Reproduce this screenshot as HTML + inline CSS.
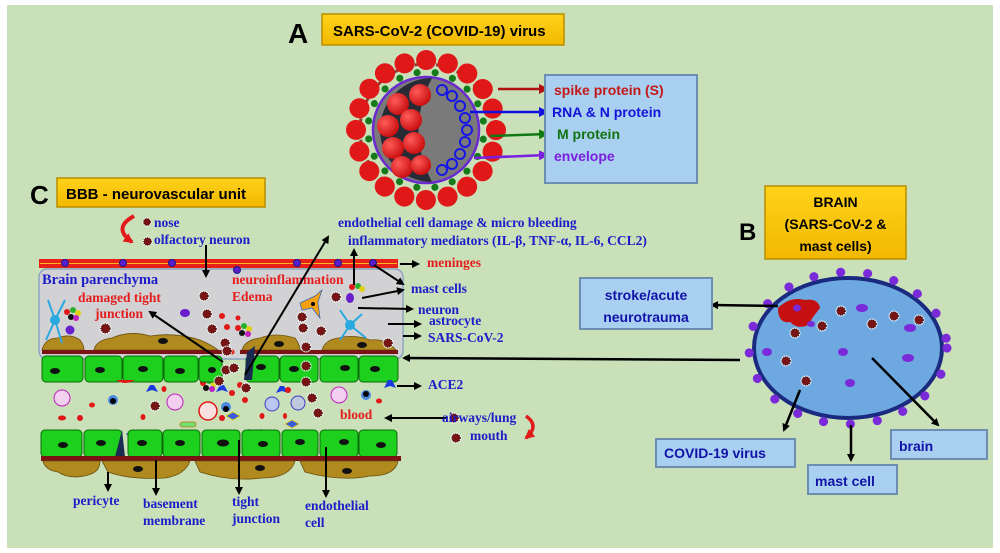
<!DOCTYPE html>
<html><head><meta charset="utf-8"><style>
html,body{margin:0;padding:0;background:#fff;}
svg{display:block;}
.lb{font-family:"Liberation Serif",serif;font-weight:bold;fill:#1c1cc8;font-size:13.5px;}
.rd{font-family:"Liberation Serif",serif;font-weight:bold;fill:#e41e1e;font-size:13.5px;}
.ss{font-family:"Liberation Sans",sans-serif;font-weight:bold;}
</style></head><body>
<svg width="1000" height="553" viewBox="0 0 1000 553" xmlns="http://www.w3.org/2000/svg">
<defs>
<marker id="ah" markerWidth="8" markerHeight="8" refX="6" refY="4" orient="auto" markerUnits="userSpaceOnUse"><path d="M0,0 L8,4 L0,8 Z" fill="#000"/></marker>
<marker id="ahr" markerWidth="10" markerHeight="10" refX="8" refY="5" orient="auto" markerUnits="userSpaceOnUse"><path d="M0,0 L10,5 L0,10 Z" fill="#b01010"/></marker>
<marker id="ahb" markerWidth="10" markerHeight="10" refX="8" refY="5" orient="auto" markerUnits="userSpaceOnUse"><path d="M0,0 L10,5 L0,10 Z" fill="#1010e0"/></marker>
<marker id="ahg" markerWidth="10" markerHeight="10" refX="8" refY="5" orient="auto" markerUnits="userSpaceOnUse"><path d="M0,0 L10,5 L0,10 Z" fill="#127a12"/></marker>
<marker id="ahp" markerWidth="10" markerHeight="10" refX="8" refY="5" orient="auto" markerUnits="userSpaceOnUse"><path d="M0,0 L10,5 L0,10 Z" fill="#7a1ee0"/></marker>
<marker id="ahred" markerWidth="10" markerHeight="10" refX="8" refY="5" orient="auto" markerUnits="userSpaceOnUse"><path d="M0,0 L10,5 L0,10 Z" fill="#e21a1a"/></marker>
<symbol id="v" viewBox="-6 -6 12 12"><circle r="5.5" fill="#fff" opacity=".7"/><circle r="4" fill="#7a1414" stroke="#4a0808" stroke-width="1.5" stroke-dasharray="1 1"/></symbol>
<linearGradient id="yg" x1="0" y1="0" x2="0" y2="1"><stop offset="0" stop-color="#ffd21a"/><stop offset="1" stop-color="#f2b800"/></linearGradient>
<radialGradient id="sg" cx=".35" cy=".35" r=".7"><stop offset="0" stop-color="#ff5a5a"/><stop offset="1" stop-color="#c80c0c"/></radialGradient>
</defs>
<rect x="7" y="5" width="986" height="543" fill="#c9e0b9"/>

<!-- Panel A -->
<text x="288" y="43" class="ss" font-size="28" fill="#000">A</text>
<rect x="322" y="14" width="242" height="31" fill="url(#yg)" stroke="#b98d00" stroke-width="1.5"/>
<text x="333" y="36" class="ss" font-size="15" fill="#000">SARS-CoV-2 (COVID-19) virus</text>

<circle cx="426" cy="130" r="66" fill="none" stroke="#8a1010" stroke-width="3" stroke-dasharray="6 15.6" stroke-dashoffset="3" opacity=".8"/>
<circle cx="426" cy="130" r="70" fill="none" stroke="#e01818" stroke-width="20" stroke-dasharray="0.1 21.89" stroke-linecap="round"/>
<circle cx="426" cy="130" r="58" fill="none" stroke="#157a1a" stroke-width="7" stroke-dasharray="0.1 18.1" stroke-dashoffset="9" stroke-linecap="round"/>
<circle cx="426" cy="130" r="53" fill="#7a7a7a" stroke="#6a2ad0" stroke-width="2.5"/>
<path d="M432,78 A52,52 0 0 0 432,182 Q405,130 432,78 Z" fill="#262b36"/>
<g fill="url(#sg)">
<circle cx="398" cy="104" r="11"/><circle cx="420" cy="95" r="11"/><circle cx="388" cy="126" r="11"/><circle cx="411" cy="120" r="11"/>
<circle cx="393" cy="148" r="11"/><circle cx="414" cy="143" r="11"/><circle cx="402" cy="167" r="11"/><circle cx="421" cy="165" r="10"/>
</g>
<g fill="none" stroke="#1616e8" stroke-width="2">
<circle cx="442" cy="90" r="5"/><circle cx="452" cy="96" r="5"/><circle cx="460" cy="106" r="5"/><circle cx="465" cy="118" r="5"/>
<circle cx="467" cy="130" r="5"/><circle cx="465" cy="142" r="5"/><circle cx="460" cy="154" r="5"/><circle cx="452" cy="164" r="5"/><circle cx="442" cy="170" r="5"/>
</g>
<line x1="498" y1="89" x2="547" y2="89" stroke="#b01010" stroke-width="2.5" marker-end="url(#ahr)"/>
<line x1="470" y1="112" x2="547" y2="112" stroke="#1010e0" stroke-width="2.5" marker-end="url(#ahb)"/>
<line x1="490" y1="136" x2="547" y2="134" stroke="#127a12" stroke-width="2.5" marker-end="url(#ahg)"/>
<line x1="474" y1="158" x2="547" y2="155" stroke="#7a1ee0" stroke-width="2.5" marker-end="url(#ahp)"/>
<rect x="545" y="75" width="152" height="108" fill="#a9d0f0" stroke="#6b8fb0" stroke-width="2"/>
<text x="554" y="95" class="ss" font-size="14" fill="#c41818">spike protein (S)</text>
<text x="552" y="117" class="ss" font-size="14" fill="#1212d8">RNA &amp; N protein</text>
<text x="557" y="139" class="ss" font-size="14" fill="#137313">M protein</text>
<text x="554" y="161" class="ss" font-size="14" fill="#7a1ee0">envelope</text>

<!-- Panel C -->
<text x="30" y="204" class="ss" font-size="26" fill="#000">C</text>
<rect x="57" y="178" width="208" height="29" fill="url(#yg)" stroke="#b98d00" stroke-width="1.5"/>
<text x="66" y="199" class="ss" font-size="15" fill="#000">BBB - neurovascular unit</text>

<path d="M134,216 Q112,228 132,242" fill="none" stroke="#e21a1a" stroke-width="4" marker-end="url(#ahred)"/>
<use href="#v" x="142" y="217" width="10" height="10"/>
<use href="#v" x="142" y="236" width="11" height="11"/>
<text x="154" y="227" class="lb">nose</text>
<text x="154" y="244" class="lb">olfactory neuron</text>

<text x="338" y="227" class="lb">endothelial cell damage &amp; micro bleeding</text>
<text x="348" y="245" class="lb">inflammatory mediators (IL-β, TNF-α, IL-6, CCL2)</text>

<!-- parenchyma -->
<rect x="39" y="269" width="364" height="90" rx="8" fill="#d2d2d4" stroke="#7a9ac0" stroke-width="1.2"/>
<rect x="39" y="259" width="359" height="9" fill="#e8201a"/>
<line x1="40" y1="263.5" x2="397" y2="263.5" stroke="#f5b820" stroke-width="1"/>
<g fill="#5a1ecc" stroke="#1a1a80" stroke-width="1">
<circle cx="65" cy="263" r="3.5"/><circle cx="123" cy="263" r="3.5"/><circle cx="172" cy="263" r="3.5"/><circle cx="297" cy="263" r="3.5"/><circle cx="338" cy="263" r="3.5"/><circle cx="373" cy="263" r="3.5"/><circle cx="237" cy="270" r="3.5"/>
</g>
<text x="42" y="284" font-family="Liberation Serif,serif" font-weight="bold" font-size="14.5" fill="#1c1cc8">Brain parenchyma</text>
<text x="78" y="302" class="rd">damaged tight</text>
<text x="95" y="318" class="rd">junction</text>
<text x="232" y="284" class="rd">neuroinflammation</text>
<text x="232" y="301" class="rd">Edema</text>

<!-- pericytes top -->
<g fill="#b08a1e" stroke="#6a5010" stroke-width=".8">
<path d="M42,350 Q45,338 58,338 Q70,333 80,340 Q84,345 84,350 Z"/>
<path d="M94,350 Q96,340 112,338 Q130,330 150,336 Q175,332 200,340 Q212,345 218,350 Z"/>
<path d="M242,350 Q245,340 260,338 Q275,332 295,338 Q300,345 300,350 Z"/>
<path d="M322,350 Q325,340 338,338 Q355,334 370,340 Q385,338 396,350 Z"/>
</g>
<g fill="#111"><ellipse cx="163" cy="341" rx="5" ry="3"/><ellipse cx="279" cy="344" rx="5" ry="3"/><ellipse cx="362" cy="345" rx="5" ry="3"/></g>
<rect x="42" y="350" width="180" height="4" fill="#7a1414"/>
<rect x="240" y="350" width="158" height="4" fill="#7a1414"/>

<!-- astrocytes / neuron -->
<g stroke="#2aa8e0" stroke-width="2" fill="none">
<path d="M55,320 L48,300 M55,320 L65,300 M55,320 L46,340 M55,320 L62,343"/>
<path d="M350,325 L340,310 M350,325 L362,314 M350,325 L340,340 M350,325 L366,338"/>
</g>
<circle cx="55" cy="320" r="5" fill="#2aa8e0"/><circle cx="350" cy="325" r="5" fill="#2aa8e0"/>
<path d="M300,303 L315,296 L322,290 L318,302 L320,318 L312,308 L302,310 Z" fill="#f5a010" stroke="#3a6ab0" stroke-width=".8"/>
<circle cx="313" cy="304" r="2" fill="#000"/>
<g fill="#6a1ecc"><circle cx="70" cy="330" r="4.5"/><ellipse cx="185" cy="313" rx="5" ry="4"/><ellipse cx="350" cy="298" rx="4" ry="5"/></g>
<g>
<circle cx="67" cy="312" r="3" fill="#e01818"/><circle cx="73" cy="310" r="3" fill="#2ab02a"/><circle cx="78" cy="313" r="3" fill="#e0d010"/><circle cx="71" cy="317" r="3" fill="#111"/><circle cx="76" cy="318" r="3" fill="#c020c0"/>
<circle cx="238" cy="328" r="3" fill="#e01818"/><circle cx="244" cy="326" r="3" fill="#2ab02a"/><circle cx="249" cy="329" r="3" fill="#e0d010"/><circle cx="242" cy="333" r="3" fill="#111"/><circle cx="248" cy="334" r="3" fill="#c020c0"/>
<circle cx="352" cy="287" r="3" fill="#e01818"/><circle cx="358" cy="286" r="3" fill="#2ab02a"/><circle cx="362" cy="289" r="3" fill="#e0d010"/>
<circle cx="203" cy="383" r="3" fill="#e01818"/><circle cx="209" cy="381" r="3" fill="#2ab02a"/><circle cx="214" cy="384" r="3" fill="#e0d010"/><circle cx="206" cy="388" r="3" fill="#111"/><circle cx="212" cy="389" r="3" fill="#c020c0"/>
</g>
<g fill="#e01818"><circle cx="222" cy="316" r="3"/><circle cx="238" cy="318" r="2.5"/><circle cx="227" cy="327" r="3"/><circle cx="232" cy="352" r="2.5"/></g>

<!-- endothelial top row -->
<g fill="#1dd01d" stroke="#0a6a0a" stroke-width="1">
<rect x="42" y="356" width="41" height="26" rx="4"/><rect x="85" y="356" width="37" height="26" rx="4"/><rect x="123" y="356" width="40" height="26" rx="4"/><rect x="164" y="356" width="34" height="26" rx="4"/><rect x="199" y="356" width="23" height="26" rx="4"/>
<rect x="246" y="356" width="33" height="26" rx="4"/><rect x="280" y="356" width="38" height="26" rx="4"/><rect x="320" y="356" width="38" height="26" rx="4"/><rect x="359" y="356" width="39" height="26" rx="4"/>
</g>
<g fill="#111">
<ellipse cx="55" cy="371" rx="5" ry="3"/><ellipse cx="100" cy="370" rx="5" ry="3"/><ellipse cx="143" cy="369" rx="5" ry="3"/><ellipse cx="180" cy="371" rx="5" ry="3"/><ellipse cx="212" cy="370" rx="4" ry="3"/>
<ellipse cx="261" cy="367" rx="5" ry="3"/><ellipse cx="294" cy="369" rx="5" ry="3"/><ellipse cx="345" cy="368" rx="5" ry="3"/><ellipse cx="375" cy="369" rx="5" ry="3"/>
</g>
<path d="M247,352 L255,346 L252,380 L244,380 Z" fill="#1a2a50"/>
<path d="M116,380 Q125,386 135,380 Z" fill="#e01818"/>
<!-- ACE2 -->
<g fill="#1a3ae0">
<path d="M150,385 L146,392 L152,390 L158,392 L154,385 Z"/><path d="M220,385 L216,392 L222,390 L228,392 L224,385 Z"/>
<path d="M280,386 L276,393 L282,391 L288,393 L284,386 Z"/><path d="M388,380 L384,388 L390,386 L396,388 L392,380 Z"/>
<path d="M130,440 L126,433 L132,435 L138,433 L134,440 Z"/><path d="M253,436 L248,429 L255,431 L262,429 L257,436 Z"/>
</g>
<!-- blood cells -->
<g>
<circle cx="62" cy="398" r="8" fill="#f3d0f0" stroke="#c020c0"/><circle cx="175" cy="402" r="8" fill="#f3d0f0" stroke="#c020c0"/><circle cx="339" cy="395" r="8" fill="#f3d0f0" stroke="#c020c0"/>
<circle cx="208" cy="411" r="9" fill="#fbe0e0" stroke="#e01818" stroke-width="1.5"/>
<circle cx="272" cy="404" r="7" fill="#b8c8f0" stroke="#3a3ac0"/><circle cx="298" cy="403" r="7" fill="#c0c8e0" stroke="#3a3ac0"/>
<circle cx="113" cy="400" r="5" fill="#4a8ae0"/><circle cx="113" cy="401" r="3" fill="#000"/>
<circle cx="226" cy="407" r="5" fill="#4a8ae0"/><circle cx="226" cy="409" r="3" fill="#000"/>
<circle cx="366" cy="395" r="5" fill="#4a8ae0"/><circle cx="366" cy="394" r="3" fill="#000"/>
</g>
<g fill="#e01818">
<ellipse cx="92" cy="405" rx="3" ry="2.5"/><ellipse cx="62" cy="418" rx="4" ry="2.5"/><ellipse cx="80" cy="418" rx="3" ry="3"/><ellipse cx="164" cy="389" rx="2.5" ry="3"/>
<ellipse cx="143" cy="417" rx="2.5" ry="3"/><ellipse cx="232" cy="393" rx="3" ry="3"/><ellipse cx="240" cy="385" rx="3" ry="3"/><ellipse cx="222" cy="418" rx="3" ry="3"/><ellipse cx="262" cy="416" rx="2.5" ry="3"/><ellipse cx="285" cy="416" rx="2" ry="3"/><ellipse cx="288" cy="390" rx="3" ry="3"/><ellipse cx="379" cy="401" rx="3" ry="2.5"/><ellipse cx="245" cy="400" rx="3" ry="3"/>
</g>
<path d="M226,416 L233,412 L240,416 L233,420 Z" fill="#3a5ae0" stroke="#e0d010" stroke-width=".8"/>
<path d="M285,424 L292,420 L299,424 L292,428 Z" fill="#3a5ae0" stroke="#e0d010" stroke-width=".8"/>
<rect x="180" y="422" width="16" height="5" rx="2.5" fill="#70e070" stroke="#c07010" stroke-width=".8"/>
<!-- viruses -->
<g>
<use href="#v" x="198" y="290" width="12" height="12"/><use href="#v" x="99" y="322" width="13" height="13"/><use href="#v" x="201" y="308" width="12" height="12"/>
<use href="#v" x="206" y="323" width="12" height="12"/><use href="#v" x="219" y="337" width="12" height="12"/><use href="#v" x="221" y="345" width="12" height="12"/>
<use href="#v" x="296" y="311" width="12" height="12"/><use href="#v" x="297" y="322" width="12" height="12"/><use href="#v" x="315" y="325" width="12" height="12"/><use href="#v" x="300" y="341" width="12" height="12"/>
<use href="#v" x="330" y="291" width="12" height="12"/><use href="#v" x="382" y="337" width="12" height="12"/>
<use href="#v" x="220" y="364" width="12" height="12"/><use href="#v" x="228" y="362" width="12" height="12"/><use href="#v" x="213" y="375" width="12" height="12"/><use href="#v" x="240" y="382" width="12" height="12"/>
<use href="#v" x="300" y="360" width="12" height="12"/><use href="#v" x="300" y="376" width="12" height="12"/><use href="#v" x="149" y="400" width="12" height="12"/><use href="#v" x="306" y="392" width="12" height="12"/><use href="#v" x="312" y="407" width="12" height="12"/>
<use href="#v" x="448" y="412" width="12" height="12"/><use href="#v" x="450" y="432" width="12" height="12"/>
</g>

<!-- endothelial bottom row -->
<g fill="#1dd01d" stroke="#0a6a0a" stroke-width="1">
<rect x="41" y="430" width="41" height="27" rx="4"/><rect x="84" y="430" width="38" height="27" rx="4"/><rect x="128" y="430" width="34" height="27" rx="4"/><rect x="163" y="430" width="37" height="27" rx="4"/><rect x="202" y="430" width="38" height="27" rx="4"/>
<rect x="242" y="430" width="38" height="27" rx="4"/><rect x="282" y="430" width="36" height="27" rx="4"/><rect x="320" y="430" width="38" height="27" rx="4"/><rect x="359" y="430" width="38" height="27" rx="4"/>
</g>
<g fill="#111">
<ellipse cx="63" cy="445" rx="5" ry="3"/><ellipse cx="101" cy="443" rx="5" ry="3"/><ellipse cx="142" cy="443" rx="5" ry="3"/><ellipse cx="180" cy="443" rx="5" ry="3"/><ellipse cx="223" cy="443" rx="6" ry="3.5"/>
<ellipse cx="263" cy="444" rx="5" ry="3"/><ellipse cx="300" cy="442" rx="5" ry="3"/><ellipse cx="344" cy="442" rx="5" ry="3"/><ellipse cx="381" cy="445" rx="5" ry="3"/>
</g>
<path d="M115,457 L122,430 L125,457 Z" fill="#1a2a50"/>
<rect x="41" y="456" width="360" height="5" fill="#7a1414"/>
<g fill="#b08a1e" stroke="#6a5010" stroke-width=".8">
<path d="M43,461 L100,461 Q100,472 88,475 Q70,480 58,472 Q45,470 43,461 Z"/>
<path d="M102,461 L190,461 Q185,475 165,478 Q130,480 108,472 Z"/>
<path d="M195,461 L295,461 Q290,478 262,478 Q230,482 200,472 Z"/>
<path d="M300,461 L398,461 Q395,476 370,476 Q340,482 305,472 Z"/>
</g>
<g fill="#111"><ellipse cx="138" cy="469" rx="5" ry="3"/><ellipse cx="260" cy="468" rx="5" ry="3"/><ellipse cx="347" cy="471" rx="5" ry="3"/></g>

<!-- bottom labels -->
<g stroke="#000" stroke-width="2" marker-end="url(#ah)">
<line x1="108" y1="472" x2="108" y2="490"/><line x1="156" y1="460" x2="156" y2="494"/><line x1="239" y1="440" x2="239" y2="493"/><line x1="326" y1="447" x2="326" y2="496"/>
</g>
<text x="73" y="505" class="lb">pericyte</text>
<text x="143" y="508" class="lb">basement</text><text x="143" y="525" class="lb">membrane</text>
<text x="232" y="506" class="lb">tight</text><text x="232" y="523" class="lb">junction</text>
<text x="305" y="510" class="lb">endothelial</text><text x="305" y="527" class="lb">cell</text>

<!-- internal arrows -->
<g stroke="#000" stroke-width="2" marker-end="url(#ah)">
<line x1="206" y1="245" x2="206" y2="276"/>
<line x1="223" y1="362" x2="150" y2="312"/>
<line x1="245" y1="375" x2="328" y2="237"/>
<line x1="354" y1="285" x2="354" y2="250"/>
<line x1="400" y1="264" x2="418" y2="264"/>
<line x1="374" y1="265" x2="403" y2="284"/>
<line x1="362" y1="298" x2="403" y2="290"/>
<line x1="358" y1="308" x2="412" y2="309"/>
<line x1="388" y1="324" x2="420" y2="324"/>
<line x1="403" y1="336" x2="420" y2="336"/>
<line x1="397" y1="386" x2="420" y2="386"/>
<line x1="447" y1="418" x2="386" y2="418"/>
</g>
<text x="427" y="267" class="rd">meninges</text>
<text x="411" y="293" class="lb">mast cells</text>
<text x="418" y="314" class="lb">neuron</text>
<text x="429" y="325" class="lb">astrocyte</text>
<text x="428" y="342" class="lb">SARS-CoV-2</text>
<text x="428" y="389" class="lb">ACE2</text>
<text x="340" y="419" class="rd">blood</text>
<text x="442" y="422" class="lb">airways/lung</text>
<text x="470" y="440" class="lb">mouth</text>
<path d="M526,416 Q540,426 526,438" fill="none" stroke="#e21a1a" stroke-width="3.5" marker-end="url(#ahred)"/>

<!-- Panel B -->
<text x="739" y="240" class="ss" font-size="24" fill="#000">B</text>
<rect x="765" y="186" width="141" height="73" fill="url(#yg)" stroke="#b98d00" stroke-width="1.5"/>
<text x="835.5" y="207" class="ss" font-size="14" fill="#000" text-anchor="middle">BRAIN</text>
<text x="835.5" y="229" class="ss" font-size="14" fill="#000" text-anchor="middle">(SARS-CoV-2 &amp;</text>
<text x="835.5" y="251" class="ss" font-size="14" fill="#000" text-anchor="middle">mast cells)</text>

<ellipse cx="848" cy="348" rx="94" ry="70" fill="#6ea8e0" stroke="#1a2a80" stroke-width="4"/>
<ellipse cx="848" cy="348" rx="99" ry="76" fill="none" stroke="#7a2ad8" stroke-width="9" stroke-dasharray="0.1 27" stroke-linecap="round"/>
<path d="M778,308 Q790,296 805,300 Q818,298 820,308 Q812,318 808,325 Q798,330 790,322 Q778,324 778,308 Z" fill="#c41010"/>
<g fill="#7a2ad8"><ellipse cx="797" cy="308" rx="4" ry="3.5"/><ellipse cx="862" cy="308" rx="6" ry="4"/><ellipse cx="910" cy="328" rx="6" ry="4"/><ellipse cx="767" cy="352" rx="5" ry="4"/><ellipse cx="843" cy="352" rx="5" ry="4"/><ellipse cx="908" cy="358" rx="6" ry="4"/><ellipse cx="850" cy="383" rx="5" ry="4"/><ellipse cx="811" cy="324" rx="4" ry="3"/></g>
<g>
<use href="#v" x="835" y="305" width="12" height="12"/><use href="#v" x="866" y="318" width="12" height="12"/><use href="#v" x="888" y="310" width="12" height="12"/><use href="#v" x="913" y="314" width="12" height="12"/>
<use href="#v" x="816" y="320" width="12" height="12"/><use href="#v" x="789" y="327" width="12" height="12"/><use href="#v" x="780" y="355" width="12" height="12"/><use href="#v" x="800" y="375" width="12" height="12"/>
</g>
<g stroke="#000" stroke-width="2.5" marker-end="url(#ah)">
<line x1="778" y1="306" x2="712" y2="305"/>
<line x1="740" y1="360" x2="404" y2="358"/>
<line x1="800" y1="390" x2="784" y2="430"/>
<line x1="851" y1="425" x2="851" y2="460"/>
<line x1="872" y1="358" x2="938" y2="425"/>
</g>
<rect x="580" y="278" width="132" height="51" fill="#a9d0f0" stroke="#6b8fb0" stroke-width="2"/>
<text x="646" y="300" class="ss" font-size="14" fill="#1212a8" text-anchor="middle">stroke/acute</text>
<text x="646" y="322" class="ss" font-size="14" fill="#1212a8" text-anchor="middle">neurotrauma</text>
<rect x="656" y="439" width="139" height="28" fill="#a9d0f0" stroke="#6b8fb0" stroke-width="2"/>
<text x="664" y="458" class="ss" font-size="14" fill="#1212a8">COVID-19 virus</text>
<rect x="808" y="465" width="89" height="29" fill="#a9d0f0" stroke="#6b8fb0" stroke-width="2"/>
<text x="815" y="486" class="ss" font-size="14" fill="#1212a8">mast cell</text>
<rect x="891" y="430" width="96" height="29" fill="#a9d0f0" stroke="#6b8fb0" stroke-width="2"/>
<text x="899" y="451" class="ss" font-size="14" fill="#1212a8">brain</text>
</svg>
</body></html>
